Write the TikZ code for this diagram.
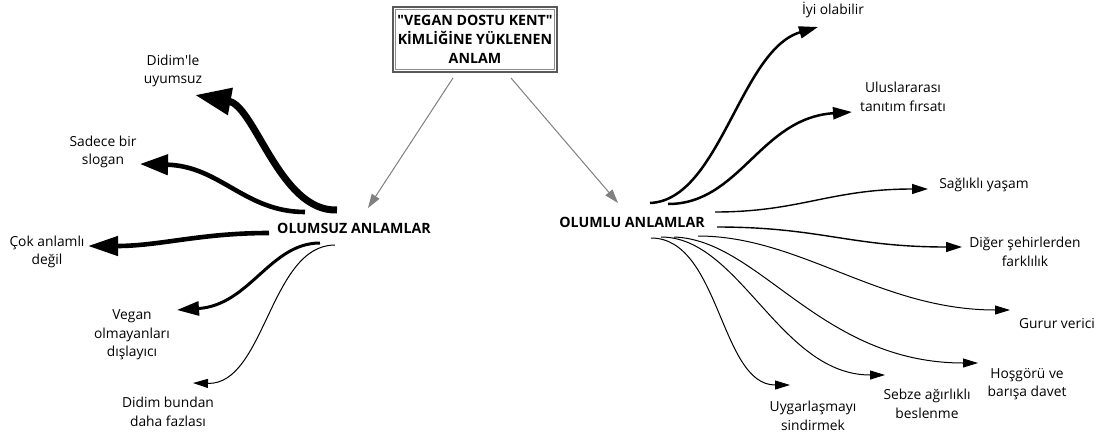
\documentclass[tikz,border=0pt]{standalone}
\usepackage{fontspec}
\setmainfont{Open Sans}
\usetikzlibrary{arrows.meta}
\begin{document}
\begin{tikzpicture}[x=1pt,y=-1pt,
  lbl/.style={font=\fontsize{13.8}{18.5}\selectfont, align=center, inner sep=0pt},
  hd/.style={font=\bfseries\fontsize{14.2}{19}\selectfont, align=center, inner sep=0pt},
  grayarr/.style={draw=black!50, line width=1pt, -{Triangle[length=14pt,width=9pt]}},
  thinarr/.style={line width=1pt, -{Triangle[length=15pt,width=9pt]}},
  midarr/.style={line width=1.4pt, -{Triangle[length=16pt,width=10pt]}}]
\useasboundingbox[fill=white] (0,0) rectangle (1096,437);

% central nodes
\node[hd, draw=black!65, line width=1.5pt, minimum width=164pt, minimum height=65pt] (title) at (475,39.5)
  {\textquotedbl VEGAN DOSTU KENT\textquotedbl\\KİMLİĞİNE YÜKLENEN\\ANLAM};
\draw[black!45, line width=0.8pt] ([shift={(3,3)}]title.north west) rectangle ([shift={(-3,-3)}]title.south east);
\node[hd] (neg) at (354,228) {OLUMSUZ ANLAMLAR};
\node[hd] (pos) at (632,222) {OLUMLU ANLAMLAR};

% labels left
\node[lbl] (n1) at (173,71) {Didim\textquotesingle le\\uyumsuz};
\node[lbl] (n2) at (103,152) {Sadece bir\\slogan};
\node[lbl] (n3) at (47,252) {Çok anlamlı\\değil};
\node[lbl] (n4) at (132,335) {Vegan\\olmayanları\\dışlayıcı};
\node[lbl] (n5) at (168,412) {Didim bundan\\daha fazlası};

% labels right
\node[lbl] (p1) at (833,10) {İyi olabilir};
\node[lbl] (p2) at (903,97) {Uluslararası\\tanıtım fırsatı};
\node[lbl] (p3) at (984,185) {Sağlıklı yaşam};
\node[lbl] (p4) at (1025,252) {Diğer şehirlerden\\farklılık};
\node[lbl] (p5) at (1057,323) {Gurur verici};
\node[lbl] (p6) at (1027,384) {Hoşgörü ve\\barışa davet};
\node[lbl] (p7) at (927,404) {Sebze ağırlıklı\\beslenme};
\node[lbl] (p8) at (813,416) {Uygarlaşmayı\\sindirmek};

% gray connectors from title
\coordinate (gl) at (453,78); \coordinate (glt) at (368,208);
\coordinate (gr) at (511,78); \coordinate (grt) at (618,203);
\draw[grayarr] (gl) -- (glt);
\draw[grayarr] (gr) -- (grt);

% negative connectors
\coordinate (a1) at (337,210); \coordinate (b1) at (195,95);
\coordinate (a2) at (305,212); \coordinate (b2) at (140,164);
\coordinate (a3) at (269,233); \coordinate (b3) at (88,246);
\coordinate (a4) at (320,243); \coordinate (b4) at (177,310);
\coordinate (a5) at (335,245); \coordinate (b5) at (193,383);
\draw[line width=7pt, -{Triangle[length=36pt,width=26pt]}] (a1) .. controls (280,212) and (255,106) .. (b1);
\draw[line width=4.6pt, -{Triangle[length=28pt,width=20pt]}] (a2) .. controls (245,212) and (220,166) .. (b2);
\draw[line width=4.6pt, -{Triangle[length=30pt,width=19pt]}] (a3) .. controls (200,233) and (160,246) .. (b3);
\draw[line width=3pt, -{Triangle[length=22pt,width=14pt]}] (a4) .. controls (270,243) and (250,305) .. (b4);
\draw[thinarr] (a5) .. controls (270,245) and (265,385) .. (b5);

% positive connectors
\coordinate (c1) at (650,203); \coordinate (d1) at (818,27);
\coordinate (c2) at (668,204); \coordinate (d2) at (852,112);
\coordinate (c3) at (715,212); \coordinate (d3) at (928,189);
\coordinate (c4) at (717,227); \coordinate (d4) at (962,247);
\coordinate (c5) at (698,236); \coordinate (d5) at (1010,310);
\coordinate (c6) at (674,237); \coordinate (d6) at (978,363);
\coordinate (c7) at (661,237); \coordinate (d7) at (885,375);
\coordinate (c8) at (651,238); \coordinate (d8) at (790,385);
\draw[line width=2.5pt, -{Triangle[length=19pt,width=12pt]}] (c1) .. controls (720,200) and (740,50) .. (d1);
\draw[line width=2.5pt, -{Triangle[length=19pt,width=12pt]}] (c2) .. controls (740,204) and (760,118) .. (d2);
\draw[midarr] (c3) .. controls (800,212) and (830,189) .. (d3);
\draw[midarr] (c4) .. controls (820,227) and (850,247) .. (d4);
\draw[thinarr] (c5) .. controls (800,236) and (880,310) .. (d5);
\draw[thinarr] (c6) .. controls (760,240) and (820,363) .. (d6);
\draw[thinarr] (c7) .. controls (740,237) and (780,375) .. (d7);
\draw[thinarr] (c8) .. controls (720,238) and (720,385) .. (d8);
\end{tikzpicture}
\end{document}
